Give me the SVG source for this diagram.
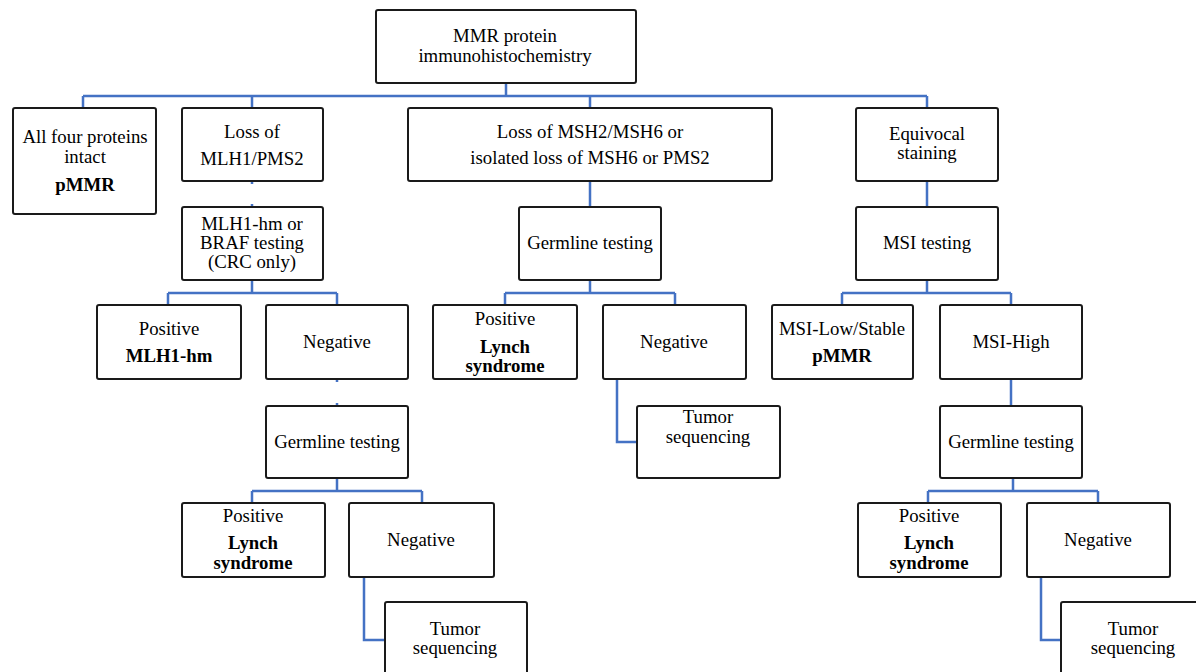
<svg xmlns="http://www.w3.org/2000/svg" width="1196" height="672" viewBox="0 0 1196 672">
<style>
.box{fill:#fff;stroke:#1a1a1a;stroke-width:2;}
.t{font-family:'Liberation Serif','DejaVu Serif',serif;font-size:18.8px;fill:#000;text-anchor:middle;}
.b{font-weight:bold;}
.c{fill:none;stroke:#4472C4;stroke-width:2.5;}
</style>
<rect width="1196" height="672" fill="#fff"/>
<g id="connectors">
<path class="c" d="M506 83V96M83 96H927M83 96V108M252 96V108M590 96V108M927 96V108"/>
<path class="c" d="M252 181V184M252 204V207"/>
<path class="c" d="M590 181V207M927 181V207"/>
<path class="c" d="M252 280V293M168 293H337M168 293V305M337 293V305"/>
<path class="c" d="M590 280V293M505 293H675M505 293V305M675 293V305"/>
<path class="c" d="M927 280V293M842 293H1011M842 293V305M1011 293V305"/>
<path class="c" d="M337 379V382M337 403V406"/>
<path class="c" d="M617 379V442H637"/>
<path class="c" d="M1011 379V406"/>
<path class="c" d="M337 478V491M252 491H422M252 491V503M422 491V503"/>
<path class="c" d="M1013 478V491M928 491H1098M928 491V503M1098 491V503"/>
<path class="c" d="M364 577V640H385"/>
<path class="c" d="M1041 577V640H1061"/>
</g>
<g font-family="'Liberation Serif','DejaVu Serif',serif">
<g id="n-root"><rect class="box" x="376" y="10" width="260" height="73" rx="2"/><text class="t" x="505" y="42">MMR protein</text><text class="t" x="505" y="62">immunohistochemistry</text></g>
<g id="n-intact"><rect class="box" x="13" y="108" width="143" height="106" rx="2"/><text class="t" x="85" y="143">All four proteins</text><text class="t" x="85" y="163">intact</text><text class="t b" x="85" y="191">pMMR</text></g>
<g id="n-mlh1"><rect class="box" x="182" y="108" width="141" height="73" rx="2"/><text class="t" x="252" y="138">Loss of</text><text class="t" x="252" y="165">MLH1/PMS2</text></g>
<g id="n-msh2"><rect class="box" x="408" y="108" width="364" height="73" rx="2"/><text class="t" x="590" y="138">Loss of MSH2/MSH6 or</text><text class="t" x="590" y="164">isolated loss of MSH6 or PMS2</text></g>
<g id="n-equivocal"><rect class="box" x="856" y="108" width="142" height="73" rx="2"/><text class="t" x="927" y="140">Equivocal</text><text class="t" x="927" y="159">staining</text></g>
<g id="n-braf"><rect class="box" x="182" y="207" width="141" height="73" rx="2"/><text class="t" x="252" y="230">MLH1-hm or</text><text class="t" x="252" y="249">BRAF testing</text><text class="t" x="252" y="268">(CRC only)</text></g>
<g id="n-germ1"><rect class="box" x="519" y="207" width="142" height="73" rx="2"/><text class="t" x="590" y="249">Germline testing</text></g>
<g id="n-msi"><rect class="box" x="856" y="207" width="142" height="73" rx="2"/><text class="t" x="927" y="249">MSI testing</text></g>
<g id="n-pos-hm"><rect class="box" x="97" y="305" width="144" height="74" rx="2"/><text class="t" x="169" y="335">Positive</text><text class="t b" x="169" y="362">MLH1-hm</text></g>
<g id="n-neg1"><rect class="box" x="266" y="305" width="142" height="74" rx="2"/><text class="t" x="337" y="348">Negative</text></g>
<g id="n-pos-lynch1"><rect class="box" x="433" y="305" width="144" height="74" rx="2"/><text class="t" x="505" y="325">Positive</text><text class="t b" x="505" y="353">Lynch</text><text class="t b" x="505" y="372">syndrome</text></g>
<g id="n-neg2"><rect class="box" x="603" y="305" width="143" height="74" rx="2"/><text class="t" x="674" y="348">Negative</text></g>
<g id="n-msi-low"><rect class="box" x="772" y="305" width="141" height="74" rx="2"/><text class="t" x="842" y="335">MSI-Low/Stable</text><text class="t b" x="842" y="362">pMMR</text></g>
<g id="n-msi-high"><rect class="box" x="940" y="305" width="142" height="74" rx="2"/><text class="t" x="1011" y="348">MSI-High</text></g>
<g id="n-germ2"><rect class="box" x="266" y="406" width="142" height="72" rx="2"/><text class="t" x="337" y="448">Germline testing</text></g>
<g id="n-tumor1"><rect class="box" x="637" y="406" width="143" height="72" rx="2"/><text class="t" x="708" y="423">Tumor</text><text class="t" x="708" y="443">sequencing</text></g>
<g id="n-germ3"><rect class="box" x="940" y="406" width="142" height="72" rx="2"/><text class="t" x="1011" y="448">Germline testing</text></g>
<g id="n-pos-lynch2"><rect class="box" x="182" y="503" width="143" height="74" rx="2"/><text class="t" x="253" y="522">Positive</text><text class="t b" x="253" y="549">Lynch</text><text class="t b" x="253" y="569">syndrome</text></g>
<g id="n-neg3"><rect class="box" x="349" y="503" width="145" height="74" rx="2"/><text class="t" x="421" y="546">Negative</text></g>
<g id="n-pos-lynch3"><rect class="box" x="858" y="503" width="143" height="74" rx="2"/><text class="t" x="929" y="522">Positive</text><text class="t b" x="929" y="549">Lynch</text><text class="t b" x="929" y="569">syndrome</text></g>
<g id="n-neg4"><rect class="box" x="1027" y="503" width="143" height="74" rx="2"/><text class="t" x="1098" y="546">Negative</text></g>
<g id="n-tumor2"><rect class="box" x="385" y="602" width="142" height="74" rx="2"/><text class="t" x="455" y="635">Tumor</text><text class="t" x="455" y="654">sequencing</text></g>
<g id="n-tumor3"><rect class="box" x="1061" y="602" width="144" height="74" rx="2"/><text class="t" x="1133" y="635">Tumor</text><text class="t" x="1133" y="654">sequencing</text></g>
</g>
</svg>
